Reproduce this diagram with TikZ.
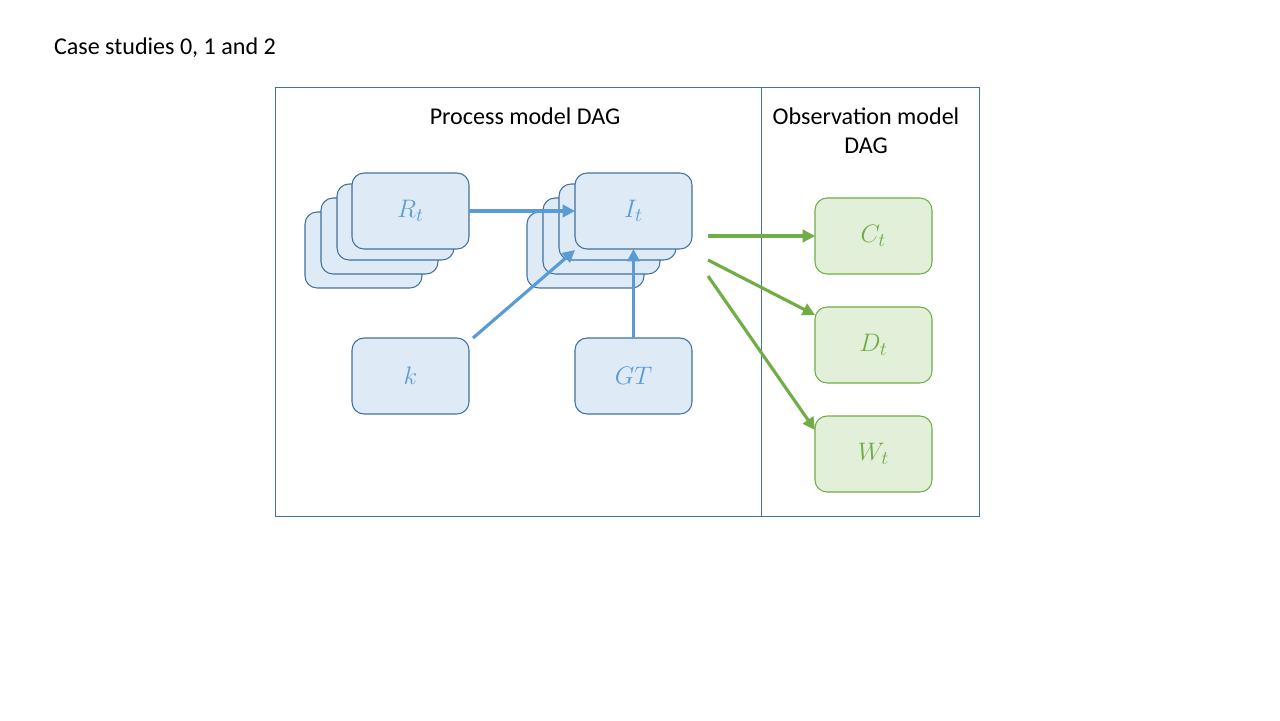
\documentclass[tikz,border=0pt]{standalone}
\usepackage{fontspec}
\setmainfont{Carlito}
\usetikzlibrary{arrows.meta}
\definecolor{bfill}{HTML}{DEEBF7}
\definecolor{bline}{HTML}{41719C}
\definecolor{btext}{HTML}{5B9BD5}
\definecolor{gfill}{HTML}{E2F0D9}
\definecolor{gline}{HTML}{70AD47}
\begin{document}
\begin{tikzpicture}[x=0.02cm,y=-0.02cm,
  every node/.style={inner sep=0pt,outer sep=0pt},
  bluebox/.style={draw=bline,fill=bfill,line width=0.6pt,rounded corners=0.24cm,
    minimum width=2.34cm,minimum height=1.52cm,text=btext,font=\fontsize{15}{18}\selectfont},
  greenbox/.style={draw=gline,fill=gfill,line width=0.6pt,rounded corners=0.24cm,
    minimum width=2.34cm,minimum height=1.52cm,text=gline,font=\fontsize{15}{18}\selectfont},
  barrow/.style={draw=btext,line width=1.8pt,-{Triangle[length=7pt,width=7pt]}},
  garrow/.style={draw=gline,line width=1.8pt,-{Triangle[length=7pt,width=7pt]}},
  lbl/.style={font=\fontsize{13.7}{16.4}\selectfont,align=center},
  frame/.style={draw=bline,line width=0.45pt,minimum height=8.58cm,anchor=north west}
]
\useasboundingbox (0,0) rectangle (1280,720);
\node[lbl,anchor=west] (title) at (54,48) {Case studies 0, 1 and 2};
% frames
\node[frame,minimum width=9.72cm] (proc) at (275,87) {};
\node[frame,minimum width=4.36cm] (obs) at (761,87) {};
\node[lbl] (ptitle) at (525,116) {Process model DAG};
\node[lbl] (otitle) at (866,131) {Observation model\\DAG};
% R stack
\node[bluebox] (Rb3) at (363.5,250) {};
\node[bluebox] (Rb2) at (379.5,236) {};
\node[bluebox] (Rb1) at (395.5,222) {};
\node[bluebox] (R) at (410.5,211) {$R_t$};
% I stack
\node[bluebox] (Ib3) at (585.5,250) {};
\node[bluebox] (Ib2) at (601.5,236) {};
\node[bluebox] (Ib1) at (617.5,222) {};
\node[bluebox] (I) at (633.5,211) {$I_t$};
\node[bluebox] (k) at (410.5,376) {$k$};
\node[bluebox] (GT) at (633.5,376) {$GT$};
\node[greenbox] (C) at (873.5,236) {$C_t$};
\node[greenbox] (D) at (873.5,345) {$D_t$};
\node[greenbox] (W) at (873.5,454) {$W_t$};
% coordinates
\coordinate (ks) at (473,338);
\coordinate (ie) at (575,250);
\coordinate (g1) at (708,236);
\coordinate (g2) at (708,260);
\coordinate (g3) at (708,276);
\coordinate (De) at (815,315);
\coordinate (We) at (815,430);
% arrows
\draw[barrow] (R.east) -- (I.west);
\draw[barrow] (ks) -- (ie);
\draw[barrow] (GT.north) -- (I.south);
\draw[garrow] (g1) -- (C.west);
\draw[garrow] (g2) -- (De);
\draw[garrow] (g3) -- (We);
\end{tikzpicture}
\end{document}
